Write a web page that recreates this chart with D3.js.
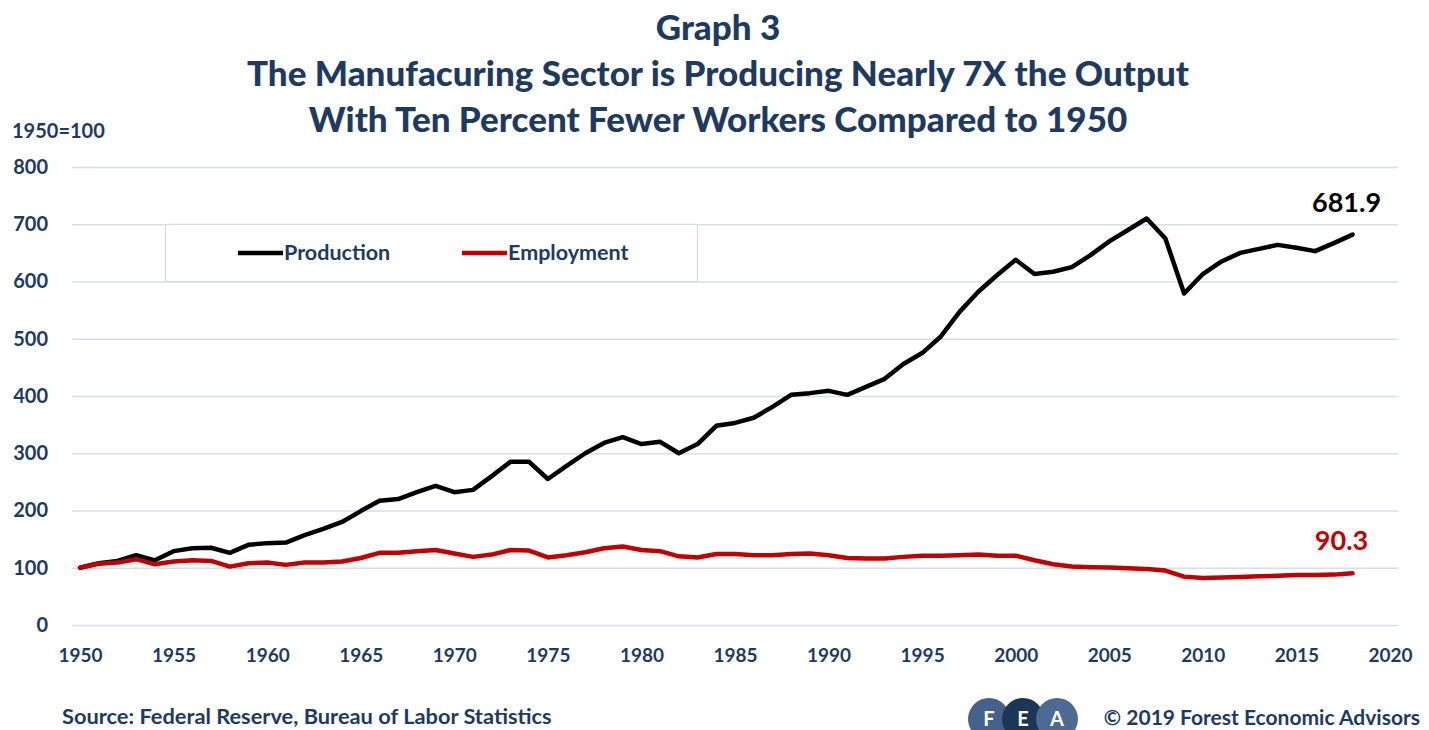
<!DOCTYPE html>
<html>
<head>
<meta charset="utf-8">
<script src="https://cdn.jsdelivr.net/npm/d3@7"></script>
<style>
  html, body { margin: 0; padding: 0; background: #fff; }
  svg { display: block; }
  text { font-family: Lato, "Open Sans", sans-serif; font-weight: 700; }
</style>
</head>
<body>
<svg id="chart" width="1429" height="730"></svg>
<script>
const years = d3.range(1950, 2019);
const production = [
  100, 108, 112, 122, 113, 129, 134, 135, 126, 140,
  143, 144, 157, 168, 180, 199, 217, 220, 232, 243,
  232, 236, 260, 285, 285, 255, 278, 300, 318, 328,
  316, 320, 300, 316, 348, 353, 362, 381, 402, 405,
  409, 402, 416, 430, 456, 475, 504, 547, 582, 611,
  638, 613, 617, 625, 646, 670, 690, 710, 675, 579,
  613, 635, 650, 657, 664, 659, 653, 667, 681.9
];
const employment = [
  100, 107, 109, 115, 106, 111, 113, 112, 102, 108,
  109, 105, 109, 109, 111, 117, 126, 126, 129, 131,
  125, 119, 123, 131, 130, 118, 122, 127, 134, 137,
  131, 129, 120, 118, 124, 124, 122, 122, 124, 125,
  122, 117, 116, 116, 119, 121, 121, 122, 123, 121,
  121, 113, 106, 102, 101, 100.5, 99, 98, 95, 84.5,
  82, 83, 84, 85, 86, 87.5, 87.5, 88, 90.3
];
const yTicks = [0, 100, 200, 300, 400, 500, 600, 700, 800];
const xTicks = [1950, 1955, 1960, 1965, 1970, 1975, 1980, 1985, 1990, 1995, 2000, 2005, 2010, 2015, 2020];
const seriesNames = ["Production", "Employment"];
const seriesColors = ["#000000", "#c00000"];
const titleLines = [
  "Graph 3",
  "The Manufacuring Sector is Producing Nearly 7X the Output",
  "With Ten Percent Fewer Workers Compared to 1950"
];

const navy = "#1f3a5f";
const svg = d3.select("#chart");

const x = d3.scaleLinear().domain([1949.57, 2020.43]).range([72, 1398]);
const y = d3.scaleLinear().domain([0, 800]).range([625, 167]);

// Title
svg.selectAll("text.title").data(titleLines).enter().append("text")
  .attr("class", "title")
  .attr("x", 718)
  .attr("y", (d, i) => [40, 86, 132][i])
  .attr("text-anchor", "middle")
  .attr("fill", navy)
  .attr("font-size", 35)
  .style("font-weight", 900)
  .text(d => d);

// Units label
svg.append("text").attr("x", 12).attr("y", 138)
  .attr("fill", navy).attr("font-size", 20).text("1950=100");

// Gridlines + y labels
const yAxis = d3.axisLeft(y).tickValues(yTicks).tickSize(-(1398 - 72)).tickPadding(24)
  .tickFormat(d3.format("d"));
const gY = svg.append("g").attr("transform", "translate(72,0)").call(yAxis);
gY.select(".domain").remove();
gY.selectAll(".tick line").attr("stroke", "#d6dfeb").attr("stroke-width", 1.6);
gY.selectAll(".tick text").attr("fill", navy).attr("font-size", 20)
  .style("font-family", "Lato, sans-serif").style("font-weight", 700);

// X axis labels
const xAxis = d3.axisBottom(x).tickValues(xTicks).tickSize(0).tickPadding(24)
  .tickFormat(d3.format("d"));
const gX = svg.append("g").attr("transform", "translate(0,625)").call(xAxis);
gX.select(".domain").remove();
gX.selectAll(".tick text").attr("fill", navy).attr("font-size", 19)
  .style("font-family", "Lato, sans-serif").style("font-weight", 700);

// Legend box
svg.append("rect").attr("x", 165.5).attr("y", 224.5).attr("width", 532).attr("height", 57)
  .attr("fill", "#fff").attr("stroke", "#d9d9d9").attr("stroke-width", 1.2);
const legendX = [238, 462];
seriesNames.forEach((name, i) => {
  svg.append("line").attr("x1", legendX[i]).attr("x2", legendX[i] + 45)
    .attr("y1", 253).attr("y2", 253)
    .attr("stroke", seriesColors[i]).attr("stroke-width", 4.5);
  svg.append("text").attr("x", legendX[i] + 46).attr("y", 260)
    .attr("fill", navy).attr("font-size", 21.5).text(name);
});

// Lines
const line = d3.line().x((d, i) => x(years[i])).y(d => y(d));
[production, employment].forEach((vals, i) => {
  svg.append("path").datum(vals)
    .attr("d", line)
    .attr("fill", "none")
    .attr("stroke", seriesColors[i])
    .attr("stroke-width", 4.5)
    .attr("stroke-linejoin", "round")
    .attr("stroke-linecap", "round");
});

// End labels
svg.append("text").attr("x", x(2018) - 6).attr("y", y(production[production.length - 1]) - 23)
  .attr("text-anchor", "middle").attr("fill", "#000").attr("font-size", 27)
  .text(d3.format(".1f")(production[production.length - 1]));
svg.append("text").attr("x", x(2018) - 11).attr("y", y(employment[employment.length - 1]) - 23)
  .attr("text-anchor", "middle").attr("fill", "#c00000").attr("font-size", 27)
  .text(d3.format(".1f")(employment[employment.length - 1]));

// Source
svg.append("text").attr("x", 62).attr("y", 724).attr("fill", navy).attr("font-size", 21.8)
  .text("Source: Federal Reserve, Bureau of Labor Statistics");

// Logo
const logo = [
  {l: "F", cx: 989, c: "#46628b"},
  {l: "E", cx: 1023, c: "#1d3658"},
  {l: "A", cx: 1057, c: "#4d6a93"}
];
const gL = svg.append("g");
gL.selectAll("circle").data(logo).enter().append("circle")
  .attr("cx", d => d.cx).attr("cy", 719).attr("r", 21)
  .attr("fill", d => d.c);
gL.selectAll("text").data(logo).enter().append("text")
  .attr("x", d => d.cx).attr("y", 726).attr("text-anchor", "middle")
  .attr("fill", "#fff").attr("font-size", 20).text(d => d.l);

svg.append("text").attr("x", 1420).attr("y", 725).attr("text-anchor", "end")
  .attr("fill", navy).attr("font-size", 21)
  .text("© 2019 Forest Economic Advisors");
</script>
</body>
</html>
